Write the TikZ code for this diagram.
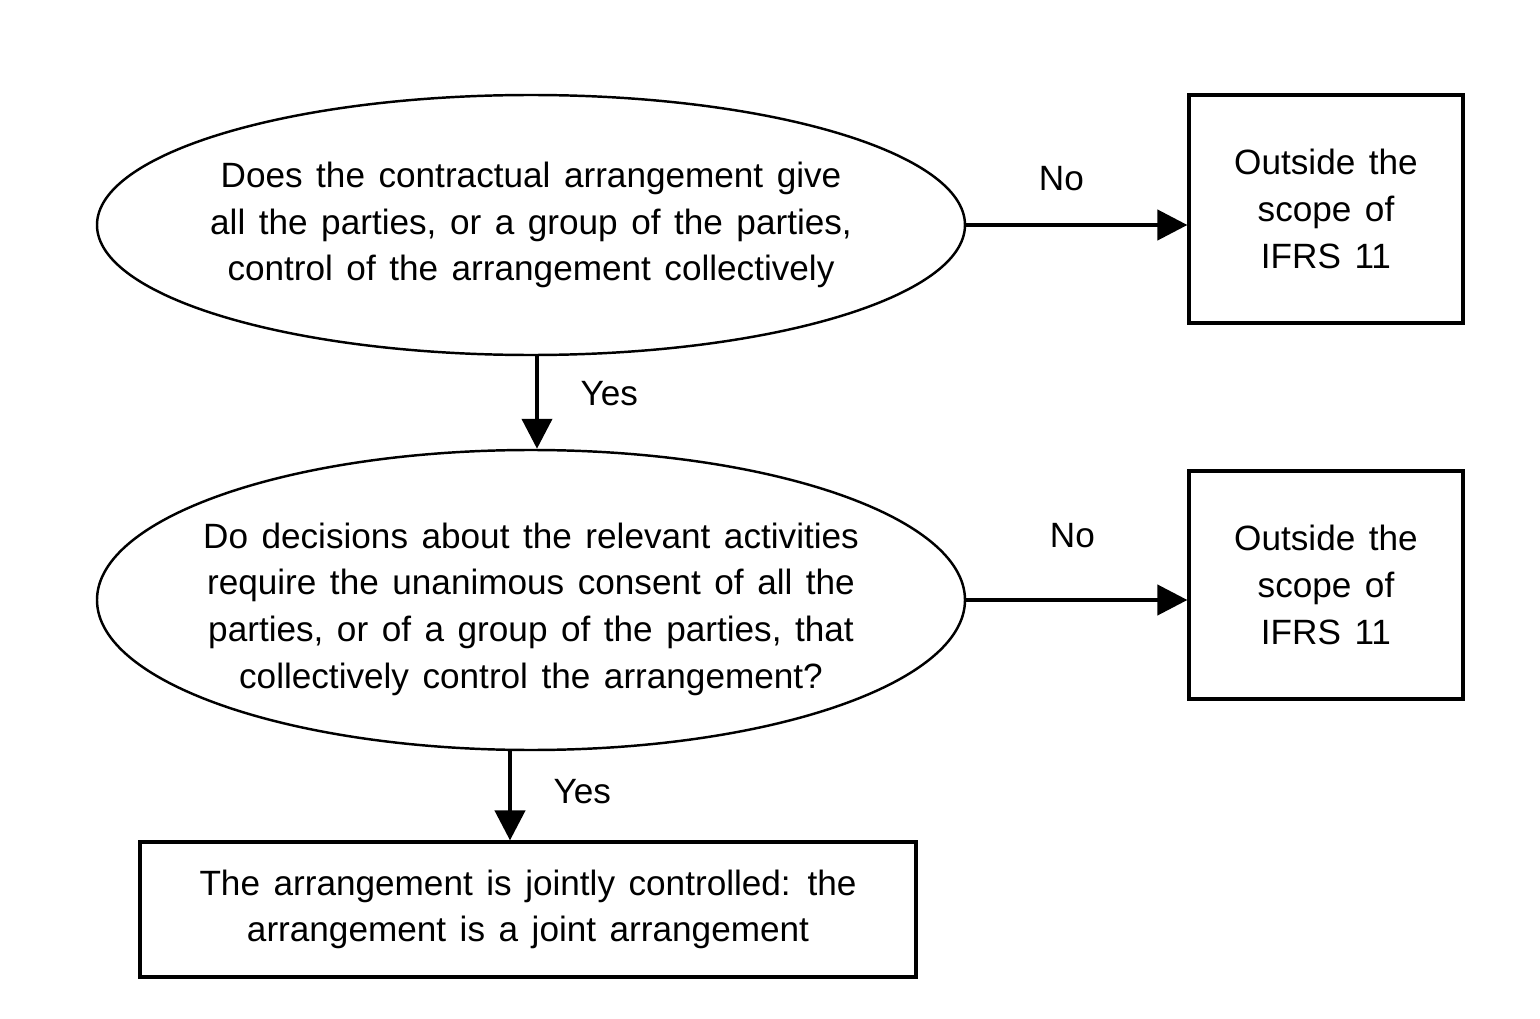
\documentclass[tikz,border=0pt]{standalone}
\usepackage{fontspec}
\setmainfont{Liberation Sans}
\usetikzlibrary{positioning, arrows.meta, shapes.geometric}
\newcommand{\chartfont}{\fontsize{10}{13.3}\selectfont\spaceskip=3.85pt plus 0pt minus 0pt\relax}

\begin{document}
\begin{tikzpicture}[font=\chartfont,
  >={Triangle[length=3mm, width=3mm]},
  q/.style={draw, ellipse, align=center, inner ysep=0pt, inner xsep=-0.5cm,
            line width=0.7pt, minimum width=8.68cm},
  bx/.style={draw, align=center, line width=0.9pt},
  outbox/.style={bx, minimum width=2.74cm, minimum height=2.28cm},
  res/.style={bx, minimum width=7.76cm, minimum height=1.35cm},
  s/.style={->, line width=1.2pt},
  lbl/.style={inner sep=1pt}]
\useasboundingbox (0,0) rectangle (15.4,-10.19);
% questions (left)
\node[q, minimum height=2.6cm] (q1) at (5.31,-2.25)
  {Does the contractual arrangement give\\all the parties, or a group of the parties,\\control of the arrangement collectively};
\node[q, minimum height=3.0cm] (q2) at (5.31,-6.0)
  {\rule{0pt}{12.4pt}Do decisions about the relevant activities\\require the unanimous consent of all the\\parties, or of a group of the parties, that\\collectively control the arrangement?};
% outcomes
\node[outbox] (o1) at (13.26,-2.09) {Outside the\\scope of\\IFRS 11};
\node[outbox] (o2) at (13.26,-5.85) {Outside the\\scope of\\IFRS 11};
\node[res] (jc) at (5.28,-9.095) {The arrangement is jointly controlled: the\\arrangement is a joint arrangement};
% edges
\draw[s] (q1.east) -- (q1.east -| o1.west) node[lbl, pos=0.43, above=0.29cm] {No};
\draw[s] (q2.east) -- (q2.east -| o2.west) node[lbl, pos=0.48, above=0.47cm] {No};
\draw[s] ([xshift=0.06cm]q1.south) -- ([xshift=0.06cm]q1.south |- q2.north)
  node[lbl, pos=0.4, right=0.38cm] {Yes};
\draw[s] ([xshift=-0.21cm]q2.south) -- ([xshift=-0.21cm]q2.south |- jc.north)
  node[lbl, pos=0.45, right=0.38cm] {Yes};
\end{tikzpicture}
\end{document}
